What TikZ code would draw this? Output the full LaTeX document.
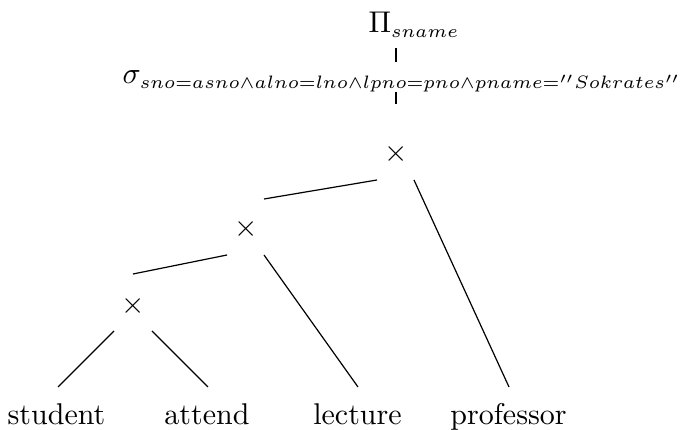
\documentclass[tikz,border=0pt]{standalone}
\DeclareMathSizes{10}{10}{6}{5}
\begin{document}
\begin{tikzpicture}[x=0.3333pt,y=-0.3333pt,
  lbl/.style={anchor=base,inner sep=0pt,outer sep=0pt},
  edge/.style={draw=black,line width=0.4pt}]
\useasboundingbox (0,0) rectangle (691,430);
% nodes
\node[lbl] (pi) at (414,33) {$\Pi_{sname}$};
\node[lbl] (sigma) at (402,84) {$\sigma_{sno=asno\wedge alno=lno\wedge lpno=pno\wedge pname=''Sokrates''}$};
\node[lbl] (t1) at (396,161.5) {$\times$};
\node[lbl] (t2) at (246,236.5) {$\times$};
\node[lbl] (t3) at (133,313.5) {$\times$};
\node[lbl] (stud) at (56.5,425) {student};
\node[lbl] (att) at (207,425) {attend};
\node[lbl] (lect) at (357.5,425) {lecture};
\node[lbl] (prof) at (508.5,425) {professor};
% connectors
\draw[edge] ([shift={(-18,15)}]pi.base) -- ([shift={(-6,-22)}]sigma.base);
\draw[edge] ([shift={(-6,8)}]sigma.base) -- ([shift={(0,-57.5)}]t1.base);
\draw[edge] ([shift={(-19,18.5)}]t1.base) -- ([shift={(18,-37.5)}]t2.base);
\draw[edge] ([shift={(18,18.5)}]t1.base) -- ([shift={(0.5,-38)}]prof.base);
\draw[edge] ([shift={(-19,18.5)}]t2.base) -- ([shift={(0,-39.5)}]t3.base);
\draw[edge] ([shift={(18,18.5)}]t2.base) -- ([shift={(0.5,-38)}]lect.base);
\draw[edge] ([shift={(-19,17.5)}]t3.base) -- ([shift={(1.5,-38)}]stud.base);
\draw[edge] ([shift={(19,17.5)}]t3.base) -- ([shift={(1,-38)}]att.base);
\end{tikzpicture}
\end{document}
